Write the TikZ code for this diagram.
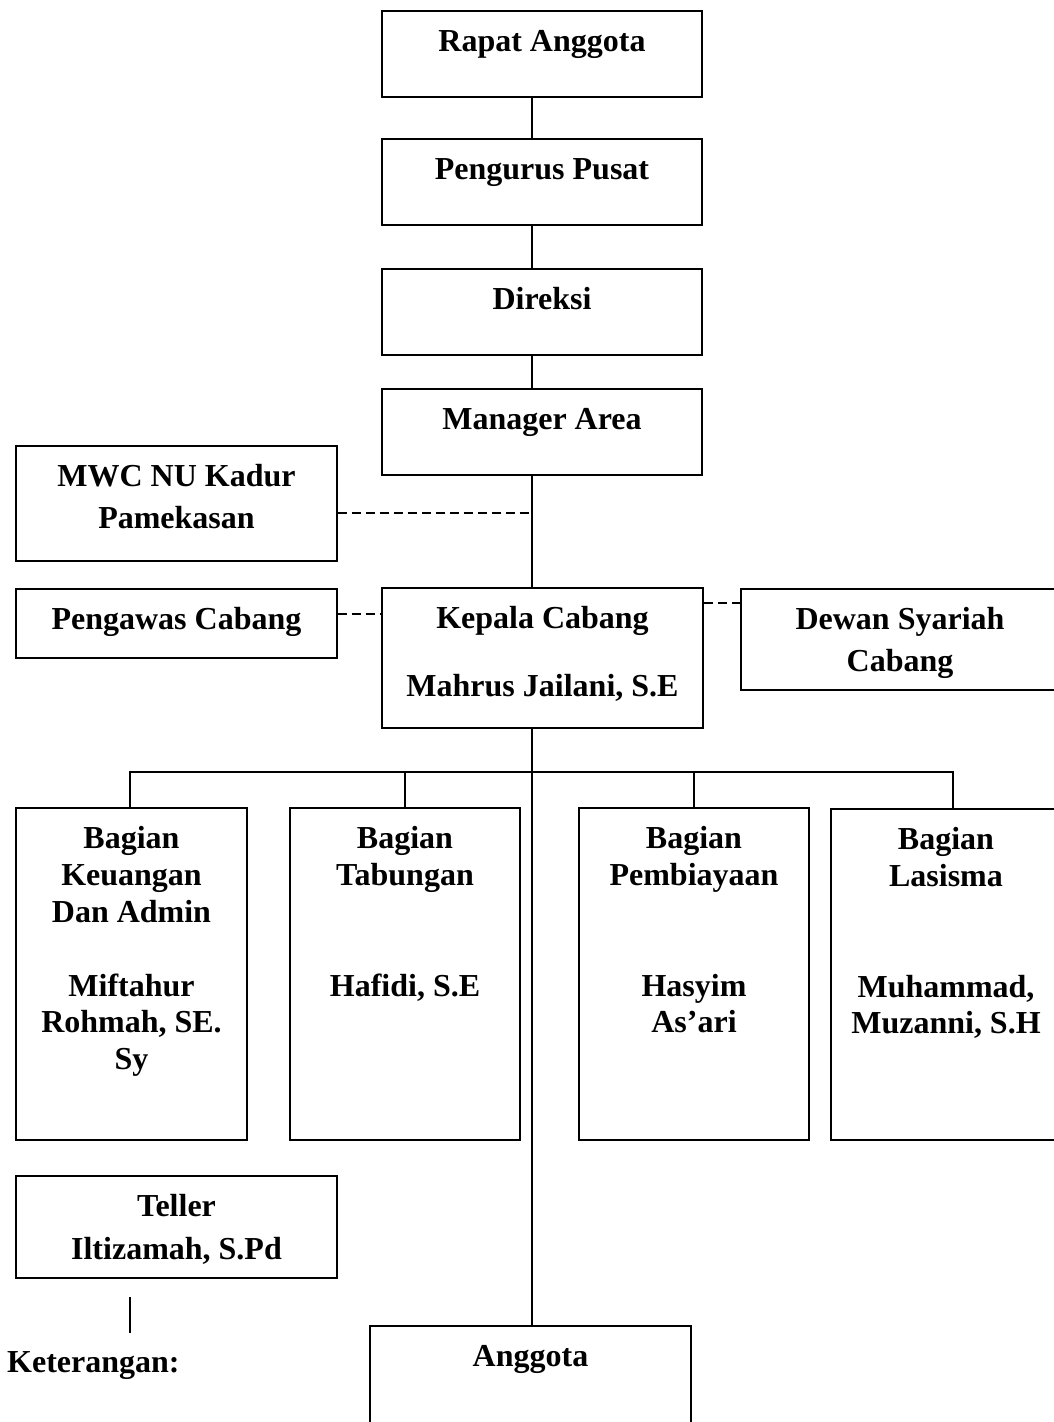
\documentclass[tikz,border=0pt]{standalone}
\usepackage{fontspec}
\setmainfont{Liberation Serif}
\usetikzlibrary{positioning,calc}
\tikzset{
    jabatan/.style={draw, line width=1.6pt, inner sep=0pt, anchor=north, align=flush center,
        text width=#1, text height=41pt, font=\fontsize{32}{36.8}\selectfont\bfseries},
    tie/.style={line width=1.6pt},
    link/.style={line width=1.4pt, dash pattern=on 9pt off 5pt}
}

\begin{document}
\begin{tikzpicture}[x=1pt, y=-1pt]
        \useasboundingbox (0,0) rectangle (1054,1422);
        \coordinate (spine) at (532,0);
        \coordinate (bus) at (532,772);
        \coordinate (busL) at (130,772);
        \coordinate (busR) at (953,772);

        % pimpinan
        \node[jabatan=320pt, text depth=45pt] (rapat) at (542,10) {Rapat Anggota};
        \node[jabatan=320pt, text depth=45pt] (pengurus) at (542,138) {Pengurus Pusat};
        \node[jabatan=320pt, text depth=45pt] (direksi) at (542,268) {Direksi};
        \node[jabatan=320pt, text depth=45pt] (manager) at (542,388) {Manager Area};

        % cabang
        \node[jabatan=321pt, text depth=74pt] (mwc) at (176.5,445) {MWC NU Kadur\\[5pt]Pamekasan};
        \node[jabatan=321pt, text depth=28pt] (pengawas) at (176.5,588) {Pengawas Cabang};
        \node[jabatan=321pt, text depth=99pt] (kepala) at (542.5,587) {Kepala Cabang\\[31pt]Mahrus Jailani, S.E};
        \node[jabatan=318pt, text depth=60pt] (dewan) at (900,588) {Dewan Syariah\\[5pt]Cabang};

        % bagian
        \node[jabatan=231pt, text depth=291pt] (keuangan) at (131.5,807) {Bagian\\Keuangan\\Dan Admin\\[36.8pt]Miftahur\\Rohmah, SE.\\Sy};
        \node[jabatan=230pt, text depth=291pt] (tabungan) at (405,807) {Bagian\\Tabungan\\[73.6pt]Hafidi, S.E};
        \node[jabatan=230pt, text depth=291pt] (pembiayaan) at (694,807) {Bagian\\Pembiayaan\\[73.6pt]Hasyim\\As'ari};
        \node[jabatan=230pt, text depth=290pt] (lasisma) at (946,808) {Bagian\\Lasisma\\[73.6pt]Muhammad,\\Muzanni, S.H};

        \node[jabatan=321pt, text depth=61pt] (teller) at (176.5,1175) {Teller\\[6pt]Iltizamah, S.Pd};
        \node[jabatan=321pt, text depth=120pt] (anggota) at (530.5,1325) {Anggota};
        \node[anchor=base west, inner sep=0pt, font=\fontsize{32}{36.8}\selectfont\bfseries] (ket) at (7,1372) {Keterangan:};

        % garis komando
        \draw[tie] (rapat.south -| spine) -- (pengurus.north -| spine);
        \draw[tie] (pengurus.south -| spine) -- (direksi.north -| spine);
        \draw[tie] (direksi.south -| spine) -- (manager.north -| spine);
        \draw[tie] (manager.south -| spine) -- (kepala.north -| spine);
        \draw[tie] (kepala.south -| spine) -- (anggota.north -| spine);
        \draw[tie] (keuangan.north -| busL) -- (busL) -- (busR) -- (lasisma.north -| busR);
        \draw[tie] (tabungan.north) -- (tabungan.north |- bus);
        \draw[tie] (pembiayaan.north) -- (pembiayaan.north |- bus);
        \coordinate (tick) at (130,1297);
        \draw[tie] (tick) -- ++(0,36);

        % garis koordinasi
        \coordinate (mwcLink) at ([yshift=-9.5pt]mwc.east);
        \coordinate (pgLink) at ([yshift=9.5pt]pengawas.east);
        \coordinate (dsLink) at ([yshift=36.5pt]dewan.west);
        \draw[link] (mwcLink) -- (mwcLink -| spine);
        \draw[link] (pgLink) -- (pgLink -| kepala.west);
        \draw[link] (dsLink -| kepala.east) -- (dsLink);
\end{tikzpicture}
\end{document}
